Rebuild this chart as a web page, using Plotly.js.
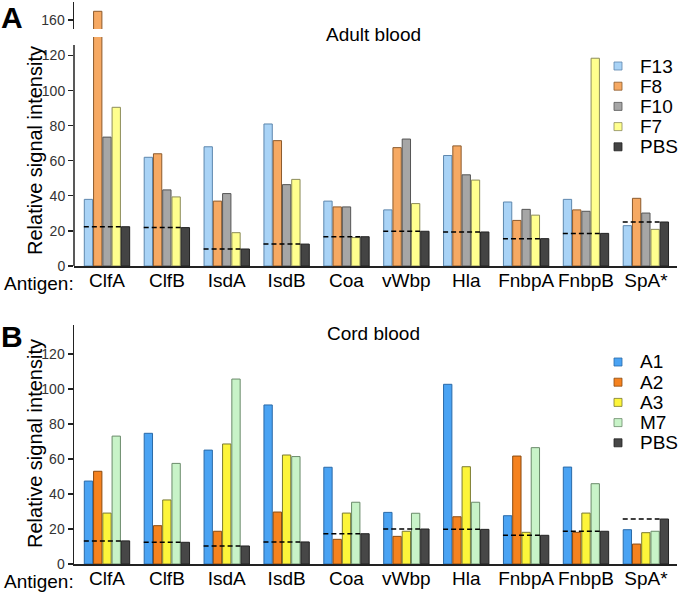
<!DOCTYPE html>
<html>
<head>
<meta charset="utf-8">
<script src="https://cdn.plot.ly/plotly-3.0.1.min.js"></script>
<style>html,body{margin:0;padding:0;background:#fff;}#chart{width:679px;height:593px;}</style>
</head>
<body>
<div id="chart"></div>
<script>
// ---- data ----
const antigens = ['ClfA','ClfB','IsdA','IsdB','Coa','vWbp','Hla','FnbpA','FnbpB','SpA*'];

// Panel A: adult blood
const adultNames = ['F13','F8','F10','F7','PBS'];
const F13 = [38, 62, 68, 81, 37, 32, 63, 36.5, 38, 23];
const F8  = [165, 64, 37, 71.5, 33.7, 67.5, 68.5, 26, 32, 38.6];
const F10 = [73.5, 43.4, 41.3, 46.4, 33.7, 72.4, 52, 32.3, 31.2, 30.2];
const F7  = [90.5, 39.4, 19, 49.4, 16.2, 35.6, 49, 29, 118.5, 20.9];
const PBS_A = [22.4, 21.9, 9.7, 12.5, 16.7, 19.8, 19.4, 15.6, 18.6, 25.1];

// Panel B: cord blood
const cordNames = ['A1','A2','A3','M7','PBS'];
const A1 = [47.4, 74.7, 65.1, 90.9, 55.3, 29.5, 102.7, 27.6, 55.4, 19.6];
const A2 = [53, 21.9, 18.7, 29.7, 14.1, 15.8, 27, 61.7, 18.1, 11.4];
const A3 = [29.1, 36.6, 68.6, 62.3, 29.1, 18.7, 55.6, 18.1, 29.1, 17.9];
const M7 = [73.1, 57.5, 105.7, 61.4, 35.3, 29, 35.3, 66.5, 45.9, 18.7];
const PBS_B = [13.2, 12.4, 10.3, 12.6, 17.3, 20, 19.8, 16.4, 18.7, 25.7];

// ---- styles ----
const FONT = 'Liberation Sans, Arial, sans-serif';
const W = 679, H = 593;
const px = x => x / W;
const py = y => 1 - y / H;

const adultFill = ['#a9d3f6', '#f6a963', '#a6a6a6', '#ffff8e', '#444444'];
const adultLine = ['#5d87ad', '#8c5a2c', '#555555', '#8c8c5a', '#222222'];
const cordFill  = ['#4aa3f3', '#f5821f', '#fdf53a', '#c8f3c8', '#474747'];
const cordLine  = ['#2a6aa8', '#8a4a10', '#7a7a30', '#6a8a6a', '#222222'];

const xIdx = antigens.map((_, i) => i);
const adultSeries = [F13, F8, F10, F7, PBS_A];
const cordSeries = [A1, A2, A3, M7, PBS_B];

const traces = [];
function addBars(series, fills, lines, names, xa, ya) {
  series.forEach((vals, k) => {
    traces.push({
      type: 'bar', x: xIdx, y: vals, name: names[k], xaxis: xa, yaxis: ya,
      marker: {color: fills[k], line: {color: lines[k], width: 1}},
      showlegend: false, hoverinfo: 'skip'
    });
  });
}
addBars(adultSeries, adultFill, adultLine, adultNames, 'x', 'y');
addBars(adultSeries, adultFill, adultLine, adultNames, 'x', 'y3'); // upper part of broken axis
addBars(cordSeries, cordFill, cordLine, cordNames, 'x2', 'y2');

// dashed PBS reference lines per antigen group
const halfGroup = 0.3865, dashEnd = 0.23;
function dashTrace(vals, xa, ya) {
  const xs = [], ys = [];
  vals.forEach((v, i) => { xs.push(i - halfGroup, i + dashEnd, null); ys.push(v, v, null); });
  return {type: 'scatter', mode: 'lines', x: xs, y: ys, xaxis: xa, yaxis: ya,
          line: {color: '#000', width: 1.5, dash: '5px,3px'}, showlegend: false, hoverinfo: 'skip'};
}
traces.push(dashTrace(PBS_A, 'x', 'y'));
traces.push(dashTrace(PBS_B, 'x2', 'y2'));

const xRange = [-0.551, 9.52];
const xDom = [px(74), px(677)];
const xCommon = {
  domain: xDom, range: xRange, tickmode: 'array', tickvals: xIdx, ticktext: antigens,
  tickangle: 0, ticklabelstandoff: -3,
  showline: true, linecolor: '#222', linewidth: 1.5, ticks: '', showgrid: false, zeroline: false,
  tickfont: {family: FONT, size: 19, color: '#000'}, fixedrange: true
};
const yCommon = {
  ticks: 'outside', ticklen: 5, tickwidth: 1.2, tickcolor: '#222', showgrid: false, zeroline: false,
  tickfont: {family: FONT, size: 14, color: '#333'}, fixedrange: true
};

const annotations = [
  {text: '<b>A</b>', x: px(12), y: py(17)},
  {text: '<b>B</b>', x: px(12), y: py(336)},
].map(a => Object.assign({xref: 'paper', yref: 'paper', showarrow: false, xanchor: 'center', yanchor: 'middle',
  font: {family: FONT, size: 30, color: '#000'}}, a));

[['Adult blood', 35], ['Cord blood', 333]].forEach(([t, y]) => annotations.push({
  text: t, x: px(373), y: py(y), xref: 'paper', yref: 'paper', showarrow: false,
  xanchor: 'center', yanchor: 'middle', font: {family: FONT, size: 19, color: '#000'}}));
[151, 444].forEach(y => annotations.push({
  text: 'Relative signal intensity', x: px(35), y: py(y), xref: 'paper', yref: 'paper', showarrow: false,
  textangle: -90, xanchor: 'center', yanchor: 'middle', font: {family: FONT, size: 20, color: '#000'}}));
[283, 581].forEach(y => annotations.push({
  text: 'Antigen:', x: px(75), y: py(y), xref: 'paper', yref: 'paper', showarrow: false,
  xanchor: 'right', yanchor: 'middle', borderpad: 0, font: {family: FONT, size: 19, color: '#000'}}));

// manual legends
const shapes = [
  {type: 'line', xref: 'paper', yref: 'y', x0: px(74), x1: px(74), y0: 0, y1: 126,
   line: {color: '#222', width: 1.5}}
];
function addLegend(names, fills, lines, y0) {
  names.forEach((n, k) => {
    const yc = y0 + k * 20.2;
    shapes.push({type: 'rect', xref: 'paper', yref: 'paper',
      x0: px(614), x1: px(622), y0: py(yc - 4), y1: py(yc + 4),
      fillcolor: fills[k], line: {color: lines[k], width: 0.8}});
    annotations.push({text: n, x: px(638), y: py(yc), xref: 'paper', yref: 'paper', showarrow: false,
      xanchor: 'left', yanchor: 'middle', font: {family: FONT, size: 19, color: '#000'}});
  });
}
addLegend(adultNames, adultFill, adultLine, 66);
addLegend(cordNames, cordFill, cordLine, 362);

const layout = {
  width: W, height: H, margin: {l: 0, r: 0, t: 0, b: 0},
  paper_bgcolor: '#fff', plot_bgcolor: 'rgba(0,0,0,0)',
  barmode: 'group', bargap: 0.227, bargroupgap: 0.1,
  showlegend: false,
  font: {family: FONT},
  xaxis: Object.assign({}, xCommon, {anchor: 'y'}),
  xaxis2: Object.assign({}, xCommon, {anchor: 'y2'}),
  yaxis: Object.assign({}, yCommon, {domain: [py(266), py(37)], range: [0, 130.6], anchor: 'x',
    showline: false, tickvals: [0, 20, 40, 60, 80, 100, 120]}),
  yaxis3: Object.assign({}, yCommon, {domain: [py(29), py(2)], range: [154.9, 170.3], anchor: 'x',
    showline: true, linecolor: '#222', linewidth: 1.5, tickvals: [160]}),
  yaxis2: Object.assign({}, yCommon, {domain: [py(564), py(325)], range: [0, 136.6], anchor: 'x2',
    showline: true, linecolor: '#222', linewidth: 1.5, tickvals: [0, 20, 40, 60, 80, 100, 120]}),
  annotations: annotations,
  shapes: shapes
};

Plotly.newPlot('chart', traces, layout, {displayModeBar: false, staticPlot: true});
</script>
</body>
</html>
